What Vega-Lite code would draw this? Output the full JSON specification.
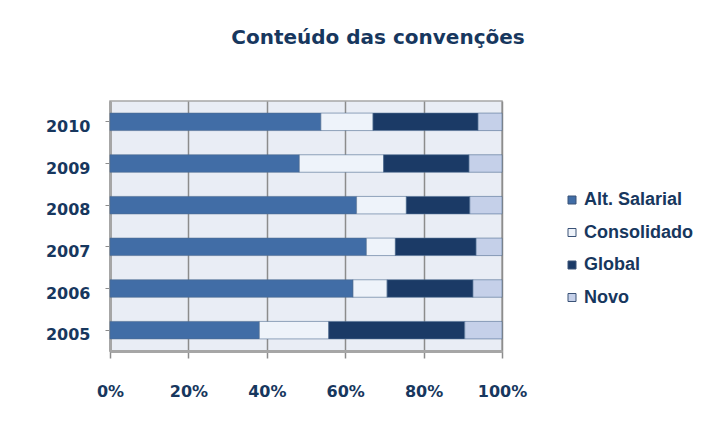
{
  "$schema": "https://vega.github.io/schema/vega-lite/v6.json",
  "autosize": {"type": "none"},
  "width": 392,
  "height": 250,
  "padding": {"left": 110, "top": 101, "right": 206, "bottom": 81},
  "background": "white",
  "title": {
    "text": "Conteúdo das convenções",
    "font": "DejaVu Sans",
    "fontSize": 20,
    "fontWeight": "bold",
    "color": "#17375E",
    "anchor": "middle",
    "frame": "group",
    "dx": 72,
    "offset": 53
  },
  "data": {
    "values": [
      {"ano": "2010", "tipo": "Alt. Salarial", "valor": 53.8},
      {"ano": "2010", "tipo": "Consolidado", "valor": 13.3},
      {"ano": "2010", "tipo": "Global", "valor": 26.8},
      {"ano": "2010", "tipo": "Novo", "valor": 6.1},
      {"ano": "2009", "tipo": "Alt. Salarial", "valor": 48.3},
      {"ano": "2009", "tipo": "Consolidado", "valor": 21.5},
      {"ano": "2009", "tipo": "Global", "valor": 21.8},
      {"ano": "2009", "tipo": "Novo", "valor": 8.4},
      {"ano": "2008", "tipo": "Alt. Salarial", "valor": 62.9},
      {"ano": "2008", "tipo": "Consolidado", "valor": 12.7},
      {"ano": "2008", "tipo": "Global", "valor": 16.2},
      {"ano": "2008", "tipo": "Novo", "valor": 8.2},
      {"ano": "2007", "tipo": "Alt. Salarial", "valor": 65.4},
      {"ano": "2007", "tipo": "Consolidado", "valor": 7.4},
      {"ano": "2007", "tipo": "Global", "valor": 20.6},
      {"ano": "2007", "tipo": "Novo", "valor": 6.6},
      {"ano": "2006", "tipo": "Alt. Salarial", "valor": 62.0},
      {"ano": "2006", "tipo": "Consolidado", "valor": 8.7},
      {"ano": "2006", "tipo": "Global", "valor": 21.9},
      {"ano": "2006", "tipo": "Novo", "valor": 7.4},
      {"ano": "2005", "tipo": "Alt. Salarial", "valor": 38.1},
      {"ano": "2005", "tipo": "Consolidado", "valor": 17.7},
      {"ano": "2005", "tipo": "Global", "valor": 34.7},
      {"ano": "2005", "tipo": "Novo", "valor": 9.5}
    ]
  },
  "mark": {"type": "bar", "height": {"band": 0.42}, "stroke": "#4f6b91", "strokeWidth": 0.6},
  "encoding": {
    "y": {
      "field": "ano",
      "type": "nominal",
      "sort": "descending",
      "title": null,
      "scale": {"paddingInner": 0, "paddingOuter": 0},
      "axis": {
        "labelFont": "DejaVu Sans",
        "labelFontSize": 16,
        "labelFontWeight": "bold",
        "labelColor": "#17375E",
        "labelPadding": 15,
        "labelOffset": 5,
        "tickSize": 5,
        "tickColor": "#8c8c8c",
        "domainColor": "#a6a6a6",
        "domainWidth": 3
      }
    },
    "x": {
      "field": "valor",
      "type": "quantitative",
      "stack": "normalize",
      "title": null,
      "scale": {"domain": [0, 1], "nice": false},
      "axis": {
        "format": ".0%",
        "values": [0, 0.2, 0.4, 0.6, 0.8, 1],
        "labelFlush": false,
        "labelOverlap": false,
        "labelFont": "DejaVu Sans",
        "labelFontSize": 16,
        "labelFontWeight": "bold",
        "labelColor": "#17375E",
        "labelPadding": 25,
        "tickSize": 7,
        "tickColor": "#8c8c8c",
        "tickWidth": 1.5,
        "domainColor": "#a6a6a6",
        "domainWidth": 3,
        "grid": true,
        "gridColor": "#8c8c8c",
        "gridWidth": 1.5
      }
    },
    "color": {
      "field": "tipo",
      "type": "nominal",
      "scale": {
        "domain": ["Alt. Salarial", "Consolidado", "Global", "Novo"],
        "range": ["#416DA6", "#EEF3FA", "#1B3A66", "#C5D0E9"]
      },
      "legend": {
        "title": null,
        "orient": "none",
        "legendX": 453,
        "legendY": 90,
        "symbolType": "square",
        "symbolSize": 64,
        "symbolStrokeColor": "#3a5277",
        "symbolStrokeWidth": 1,
        "labelFont": "Liberation Sans",
        "labelFontSize": 18,
        "labelFontWeight": "bold",
        "labelColor": "#17375E",
        "labelOffset": 3,
        "rowPadding": 14.5
      }
    }
  },
  "config": {
    "view": {"fill": "#E9EDF5", "stroke": "#a6a6a6", "strokeWidth": 1.5}
  }
}
